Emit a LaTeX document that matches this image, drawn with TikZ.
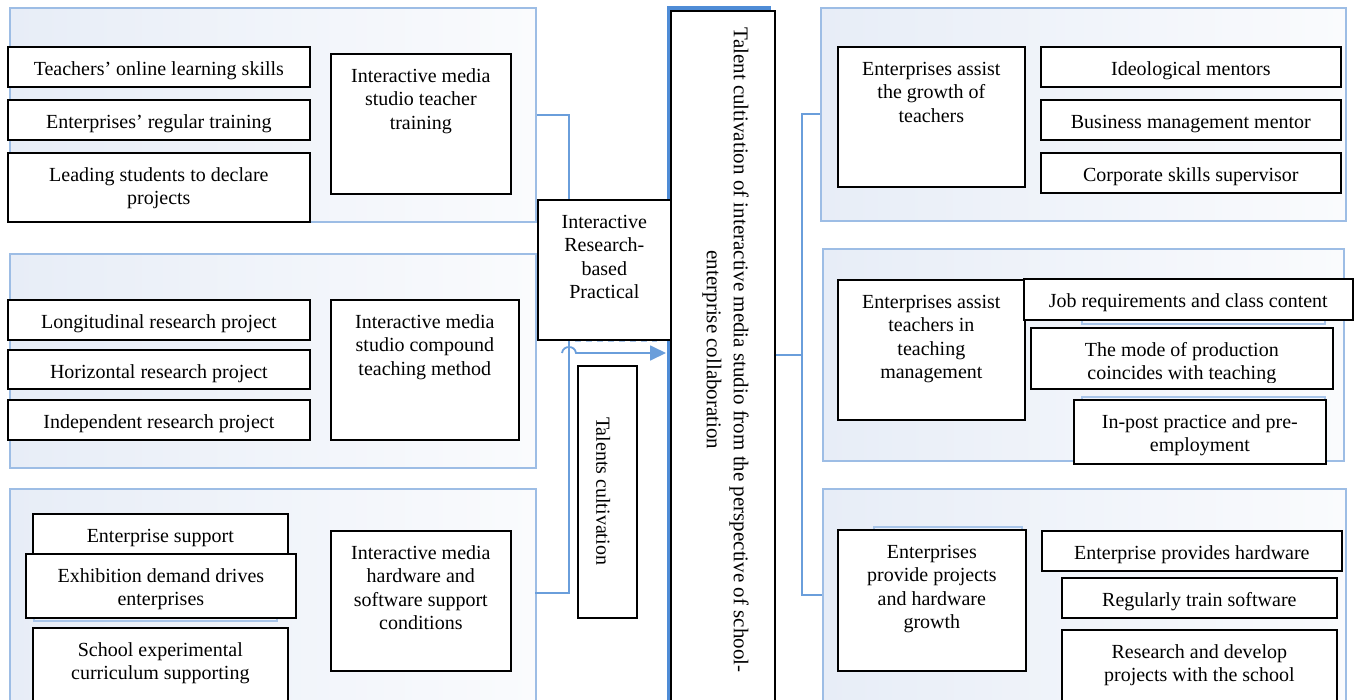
\documentclass[tikz,border=0pt]{standalone}
\usepackage{fontspec}
\setmainfont{Liberation Serif}
\usetikzlibrary{arrows.meta,calc}

\definecolor{panelline}{HTML}{9DBDE5}
\definecolor{panelfillA}{HTML}{E7EDF7}
\definecolor{panelfillB}{HTML}{FAFBFD}
\definecolor{linkblue}{HTML}{6A9EDB}
\definecolor{edgeblue}{HTML}{4F8CD6}
\definecolor{ghostblue}{HTML}{A8C5EA}

\tikzset{
  panel/.style={draw=panelline, line width=1.6pt, left color=panelfillA, right color=panelfillB,
                inner sep=0pt, anchor=north west},
  blk/.style={draw=black, line width=1.7pt, fill=white, inner sep=0pt, anchor=north west},
  txt/.style={font=\fontsize{20}{23.5}\selectfont, align=center, inner sep=0pt, anchor=north},
  conn/.style={draw=linkblue, line width=1.8pt},
  ghost/.style={draw=ghostblue, line width=1.4pt},
}

% panel: name, x1, y1, x2, y2 (y grows downward)
\newcommand\panelat[5]{%
  \node[panel, minimum width={#4-#2}, minimum height={#5-#3}] (#1) at (#2,#3) {};}

% framed box with top-aligned, bottom-clipped text: name, x1, y1, x2, y2, text
\newcommand\boxat[6]{%
  \node[blk, minimum width={#4-#2}, minimum height={#5-#3}] (#1) at (#2,#3) {};
  \begin{scope}
    \clip (#2,#3) rectangle (#4,#5-6);
    \node[txt] (#1t) at ([yshift=-12.5pt]#1.north) {\strut #6};
  \end{scope}}

\begin{document}
\begin{tikzpicture}[x=1pt,y=-1pt]
\useasboundingbox (0,0) rectangle (1354,699);
\clip (0,0) rectangle (1354,699);

% ---- group panels ----
\panelat{L1}{9}{7}{535}{221}
\panelat{L2}{9}{253}{535}{467}
\panelat{L3}{9}{488}{535}{720}
\panelat{R1}{820}{7}{1345}{220}
\panelat{R2}{822}{248}{1343}{460}
\panelat{R3}{822}{488}{1345}{720}

% ---- faint outlines lying behind some boxes ----
\draw[ghost] (34,575) rectangle (277,621);
\draw[ghost] (1082,300) rectangle (1325,324);
\draw[ghost] (1082,397) rectangle (1325,440);
\draw[ghost] (874,527) rectangle (1022,600);
\draw[ghost, dash pattern=on 6pt off 5pt] (575,341) -- (657,341);

% ---- central box with its blue edge ----
\node[blk, minimum width=104, minimum height=700,
      preaction={fill=edgeblue, transform canvas={shift={(-4pt,5pt)}}}] (main) at (670,10) {};

% ---- connectors ----
\coordinate (lport) at (535,593);
\coordinate (rport) at (822,595);
\coordinate (rtap) at (802,355);
\coordinate (hop) at (562,353);
\draw[conn] (L1.east) -| (569,593) -- (lport);
\draw[conn] (R1.west) -| (802,595) -- (rport);
\draw[conn] (main.east |- rtap) -- (rtap);
\draw[conn, -{Triangle[length=16pt,width=15pt]}]
  (hop) .. controls (563,345) and (575,345) .. (576,353) -- ([xshift=-4pt]main.west |- hop);

% ---- left groups ----
\boxat{a1}{7}{46}{309}{86}{Teachers’ online learning skills}
\boxat{a2}{7}{99}{309}{139}{Enterprises’ regular training}
\boxat{a3}{7}{152}{309}{221}{Leading students to declare\\projects}
\boxat{a4}{330}{53}{510}{193}{Interactive media\\studio teacher\\training}

\boxat{b1}{7}{299}{309}{339}{Longitudinal research project}
\boxat{b2}{7}{349}{309}{388}{Horizontal research project}
\boxat{b3}{7}{399}{309}{439}{Independent research project}
\boxat{b4}{330}{299}{518}{439}{Interactive media\\studio compound\\teaching method}

\boxat{c1}{32}{513}{287}{553}{Enterprise support}
\boxat{c2}{25}{553}{295}{617}{Exhibition demand drives\\enterprises}
\boxat{c3}{32}{627}{287}{720}{School experimental\\curriculum supporting}
\boxat{c4}{330}{530}{510}{670}{Interactive media\\hardware and\\software support\\conditions}

% ---- middle column ----
\boxat{ir}{537}{199}{670}{339}{Interactive\\Research-\\based\\Practical}
\node[blk, minimum width=59, minimum height=252] (tc) at (577,365) {};
\node[txt, rotate=-90] (tct) at (613,491) {\strut Talents cultivation};
\node[txt, rotate=-90, font=\fontsize{21}{27}\selectfont] (maint) at (753,350)
  {\strut Talent cultivation of interactive media studio from the perspective of school-\\enterprise collaboration};

% ---- right groups ----
\boxat{d1}{837}{46}{1024}{186}{Enterprises assist\\the growth of\\teachers}
\boxat{d2}{1040}{46}{1340}{86}{Ideological mentors}
\boxat{d3}{1040}{99}{1340}{139}{Business management mentor}
\boxat{d4}{1040}{152}{1340}{192}{Corporate skills supervisor}

\boxat{e1}{837}{279}{1024}{419}{Enterprises assist\\teachers in\\teaching\\management}
\boxat{e2}{1023}{278}{1352}{319}{Job requirements and class content}
\boxat{e3}{1030}{327}{1332}{388}{The mode of production\\coincides with teaching}
\boxat{e4}{1073}{399}{1325}{463}{In-post practice and pre-\\employment}

\boxat{f1}{837}{529}{1025}{670}{Enterprises\\provide projects\\and hardware\\growth}
\boxat{f2}{1041}{530}{1341}{570}{Enterprise provides hardware}
\boxat{f3}{1061}{577}{1336}{617}{Regularly train software}
\boxat{f4}{1061}{629}{1336}{720}{Research and develop\\projects with the school}
\end{tikzpicture}
\end{document}
